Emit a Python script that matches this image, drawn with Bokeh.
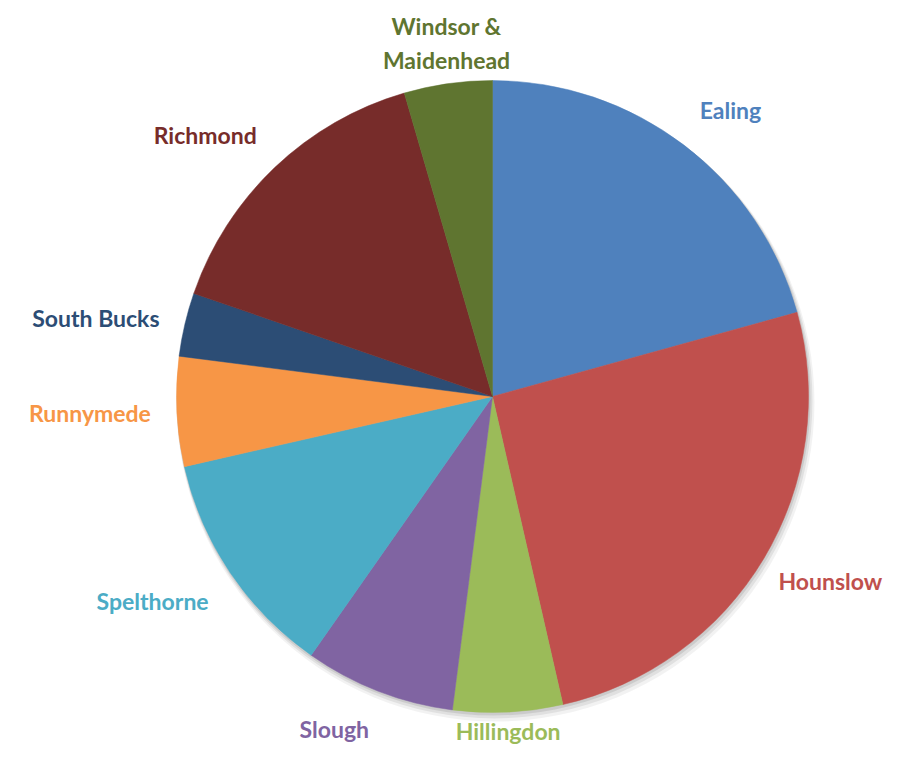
import math
from bokeh.plotting import figure
from bokeh.models import ColumnDataSource, Range1d
from bokeh.core.properties import value
from bokeh.embed import file_html
from bokeh.resources import INLINE

# Data (clockwise from 12 o'clock)
boroughs = ["Ealing", "Hounslow", "Hillingdon", "Slough", "Spelthorne",
            "Runnymede", "South Bucks", "Richmond", "Windsor &\nMaidenhead"]
shares = [20.7, 25.7, 5.6, 7.7, 11.7, 5.6, 3.25, 15.2, 4.5]
colors = ["#4F81BD", "#C0504D", "#9BBB59", "#8064A2", "#4BACC6",
          "#F79646", "#2C4D75", "#772C2A", "#5F7530"]

W, H = 887, 749
cx, cy, R = 492, H - 396, 316

total = sum(shares)
starts, ends, lx, ly, aligns, baselines = [], [], [], [], [], []
cum = 0.0
for s in shares:
    a0 = math.pi / 2 - 2 * math.pi * (cum + s) / total
    a1 = math.pi / 2 - 2 * math.pi * cum / total
    cum += s
    starts.append(a0)
    ends.append(a1)
    mid = (a0 + a1) / 2
    c, sn = math.cos(mid), math.sin(mid)
    if sn < -0.95:
        gap = 5
    elif sn > 0.95:
        gap = 10
    elif c > 0.8:
        gap = 17
    else:
        gap = 26
    lx.append(cx + (R + gap) * c)
    ly.append(cy + (R + gap) * sn)
    aligns.append("left" if c > 0.25 else ("right" if c < -0.25 else "center"))
    baselines.append("bottom" if sn > 0.5 else ("top" if sn < -0.5 else "middle"))

src = ColumnDataSource(dict(name=boroughs, start=starts, end=ends, color=colors))
lab = ColumnDataSource(dict(x=lx, y=ly, text=boroughs, color=colors,
                            align=aligns, base=baselines))

p = figure(width=W, height=H, output_backend="svg", toolbar_location=None,
           x_range=Range1d(0, W), y_range=Range1d(0, H), min_border=0)
p.axis.visible = False
p.grid.visible = False
p.outline_line_color = None
p.background_fill_color = "white"

# soft shadow
for off, al in [(6, 0.05), (4, 0.07), (2, 0.09)]:
    p.circle(x=[cx + off * 0.5], y=[cy - off], radius=R + off * 0.5,
             fill_color="#000000", fill_alpha=al, line_color=None)

p.wedge(x=cx, y=cy, radius=R, start_angle="start", end_angle="end",
        fill_color="color", line_color="color", line_width=0.5, source=src)

p.text(x="x", y="y", text="text", text_color="color", text_align="align",
       text_baseline="base", text_font=value("Lato"), text_font_style="bold",
       text_font_size="23px", text_line_height=1.2, source=lab)

open("out.html", "w").write(file_html(p, INLINE))
